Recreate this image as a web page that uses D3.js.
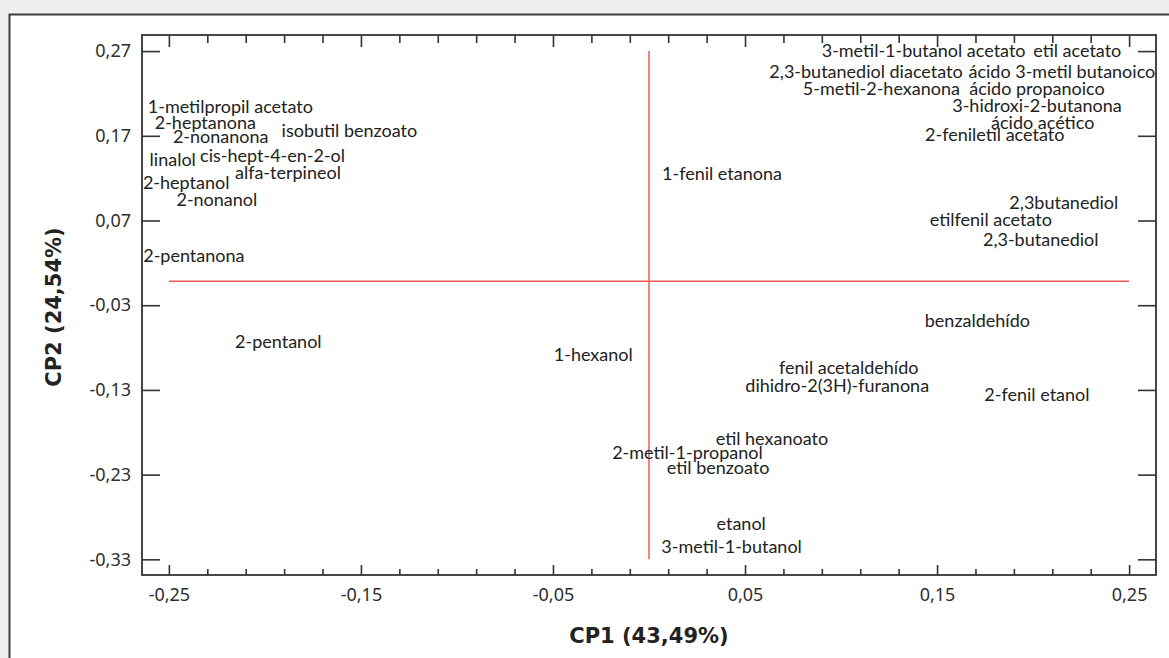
<!DOCTYPE html>
<html>
<head>
<meta charset="utf-8">
<script src="https://cdn.jsdelivr.net/npm/d3@7"></script>
<style>
  html, body { margin: 0; padding: 0; background: #eeeeee; }
  svg { display: block; }
</style>
</head>
<body>
<svg id="chart" width="1169" height="658"></svg>
<script>
// Volatile compounds projected on the first two principal components
const compounds = [
  "1-metilpropil acetato", "2-heptanona", "2-nonanona", "isobutil benzoato",
  "linalol", "cis-hept-4-en-2-ol", "2-heptanol", "alfa-terpineol", "2-nonanol",
  "2-pentanona", "2-pentanol", "1-hexanol",
  "3-metil-1-butanol acetato", "etil acetato", "2,3-butanediol diacetato",
  "ácido 3-metil butanoico", "5-metil-2-hexanona", "ácido propanoico",
  "3-hidroxi-2-butanona", "ácido acético", "2-feniletil acetato",
  "1-fenil etanona", "2,3butanediol", "etilfenil acetato", "2,3-butanediol",
  "benzaldehído", "fenil acetaldehído", "dihidro-2(3H)-furanona", "2-fenil etanol",
  "etil hexanoato", "2-metil-1-propanol", "etil benzoato", "etanol", "3-metil-1-butanol"
];
const cp1 = [
  -0.218, -0.231, -0.223, -0.156,
  -0.248, -0.196, -0.241, -0.188, -0.225,
  -0.237, -0.193, -0.029,
  0.143, 0.223, 0.113,
  0.215, 0.121, 0.202,
  0.202, 0.205, 0.180,
  0.038, 0.216, 0.178, 0.204,
  0.171, 0.104, 0.098, 0.202,
  0.064, 0.020, 0.036, 0.048, 0.043
];
const cp2 = [
  0.204, 0.185, 0.169, 0.176,
  0.142, 0.147, 0.115, 0.126, 0.095,
  0.028, -0.073, -0.088,
  0.270, 0.270, 0.246,
  0.246, 0.226, 0.226,
  0.206, 0.186, 0.171,
  0.125, 0.091, 0.071, 0.047,
  -0.048, -0.104, -0.125, -0.136,
  -0.187, -0.204, -0.222, -0.288, -0.315
];

const xTickValues = [-0.25, -0.15, -0.05, 0.05, 0.15, 0.25];
const yTickValues = [0.27, 0.17, 0.07, -0.03, -0.13, -0.23, -0.33];
const xTitle = "CP1 (43,49%)";
const yTitle = "CP2 (24,54%)";

const W = 1169, H = 658;
const frame = { left: 142, right: 1156, top: 35, bottom: 575 };

const x = d3.scaleLinear().domain([-0.264, 0.264]).range([frame.left, frame.right]);
const y = d3.scaleLinear().domain([-0.3485, 0.289]).range([frame.bottom, frame.top]);

const locale = d3.formatLocale({ decimal: ",", thousands: ".", grouping: [3], currency: ["", ""], minus: "-" });
const fmt = locale.format(".2f");

const svg = d3.select("#chart");

// white panel with dark border running off the right and bottom edges
svg.append("rect")
  .attr("x", 9.5).attr("y", 14.5)
  .attr("width", W + 20).attr("height", H + 20)
  .attr("fill", "#ffffff")
  .attr("stroke", "#3c3c3c")
  .attr("stroke-width", 2);

// minor x ticks every 0.02 from -0.25 to 0.25
const xMinor = d3.range(26).map(i => +(-0.25 + i * 0.02).toFixed(2)).filter(v => !xTickValues.includes(v));

const tickStyle = g => {
  g.select(".domain").remove();
  g.selectAll(".tick line").attr("stroke", "#333").attr("stroke-width", 1.6);
  g.selectAll(".tick text")
    .attr("fill", "#2e2e2e")
    .style("font-family", "'Noto Sans', 'Open Sans', sans-serif")
    .style("font-size", "18px");
};

// bottom axis
svg.append("g").attr("transform", `translate(0,${frame.bottom})`)
  .call(d3.axisBottom(x).tickValues(xTickValues).tickSizeInner(-10).tickSizeOuter(0).tickPadding(13).tickFormat(fmt))
  .call(tickStyle);
svg.append("g").attr("transform", `translate(0,${frame.bottom})`)
  .call(d3.axisBottom(x).tickValues(xMinor).tickSizeInner(-6).tickSizeOuter(0).tickFormat(""))
  .call(tickStyle);

// top axis
svg.append("g").attr("transform", `translate(0,${frame.top})`)
  .call(d3.axisTop(x).tickValues(xTickValues).tickSizeInner(-12).tickSizeOuter(0).tickFormat(""))
  .call(tickStyle);
svg.append("g").attr("transform", `translate(0,${frame.top})`)
  .call(d3.axisTop(x).tickValues(xMinor).tickSizeInner(-8).tickSizeOuter(0).tickFormat(""))
  .call(tickStyle);

// left axis
svg.append("g").attr("transform", `translate(${frame.left},0)`)
  .call(d3.axisLeft(y).tickValues(yTickValues).tickSizeInner(-18).tickSizeOuter(0).tickPadding(11).tickFormat(fmt))
  .call(tickStyle);

// right axis
svg.append("g").attr("transform", `translate(${frame.right},0)`)
  .call(d3.axisRight(y).tickValues(yTickValues).tickSizeInner(-18).tickSizeOuter(0).tickFormat(""))
  .call(tickStyle);

// plot frame
svg.append("rect")
  .attr("x", frame.left).attr("y", frame.top)
  .attr("width", frame.right - frame.left).attr("height", frame.bottom - frame.top)
  .attr("fill", "none").attr("stroke", "#333").attr("stroke-width", 1.8);

// reference axes through the origin
svg.append("line")
  .attr("x1", x(xTickValues[0])).attr("x2", x(xTickValues[xTickValues.length - 1]))
  .attr("y1", y(0) + 1.5).attr("y2", y(0) + 1.5)
  .attr("stroke", "#ee5a5a").attr("stroke-width", 1.5);
svg.append("line")
  .attr("x1", x(0)).attr("x2", x(0))
  .attr("y1", y(yTickValues[0])).attr("y2", y(yTickValues[yTickValues.length - 1]))
  .attr("stroke", "#ee5a5a").attr("stroke-width", 1.5);

// compound labels
svg.append("g")
  .selectAll("text")
  .data(compounds)
  .join("text")
  .attr("x", (d, i) => x(cp1[i]))
  .attr("y", (d, i) => y(cp2[i]))
  .attr("dy", "0.35em")
  .attr("text-anchor", "middle")
  .attr("fill", "#222")
  .style("font-family", "Lato, 'Noto Sans', sans-serif")
  .style("font-size", "18px")
  .text(d => d);

// axis titles
svg.append("text")
  .attr("x", (frame.left + frame.right) / 2)
  .attr("y", 636)
  .attr("dy", "0.35em")
  .attr("text-anchor", "middle")
  .attr("fill", "#222")
  .style("font-family", "'DejaVu Sans', sans-serif")
  .style("font-size", "21px")
  .style("font-weight", "bold")
  .text(xTitle);

svg.append("text")
  .attr("transform", `translate(54,${(frame.top + frame.bottom) / 2 + 2}) rotate(-90)`)
  .attr("dy", "0.35em")
  .attr("text-anchor", "middle")
  .attr("fill", "#222")
  .style("font-family", "'DejaVu Sans', sans-serif")
  .style("font-size", "21px")
  .style("font-weight", "bold")
  .text(yTitle);
</script>
</body>
</html>
